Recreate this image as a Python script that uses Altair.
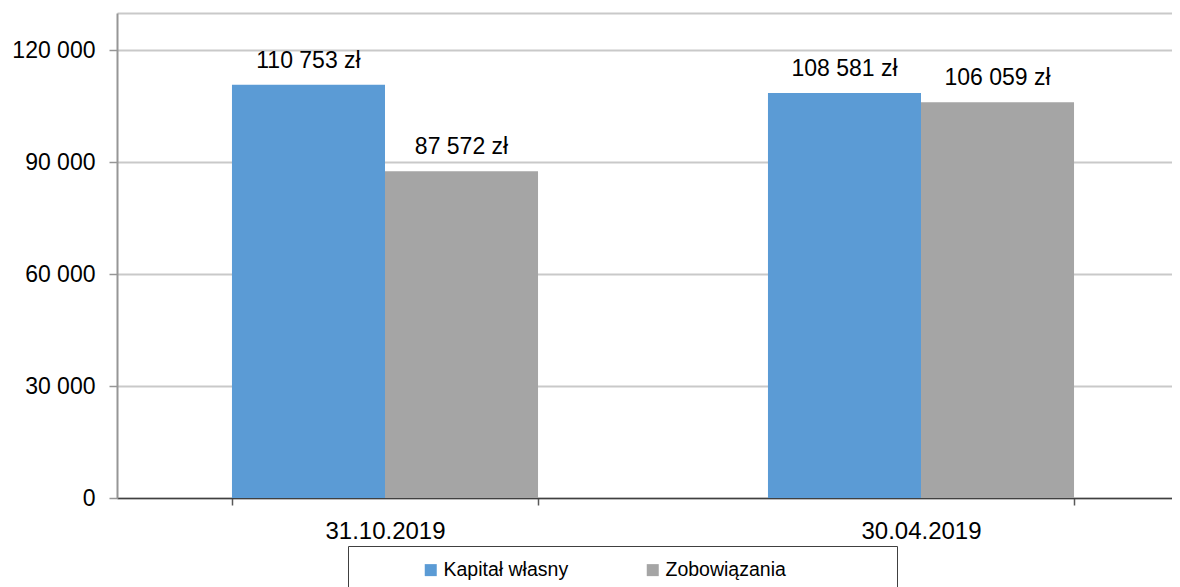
import altair as alt
import pandas as pd

dates = ["31.10.2019", "30.04.2019"]
series = ["Kapitał własny", "Zobowiązania"]
kapital = [110753, 108581]
zobowiazania = [87572, 106059]
colors = ["#5B9BD5", "#A5A5A5"]
y_ticks = [0, 30000, 60000, 90000, 120000, 130000]

rows = []
for i, d in enumerate(dates):
    rows.append({"date": d, "series": series[0], "value": kapital[i]})
    rows.append({"date": d, "series": series[1], "value": zobowiazania[i]})
df = pd.DataFrame(rows)

FONT = "Liberation Sans"
# blank legend slot that only widens the legend frame on the right
legend_domain = series + ["\u200b"]
legend_range = colors + ["transparent"]

x = alt.X(
    "date:N",
    sort=dates,
    scale=alt.Scale(range=[0, 1072], paddingInner=0.429, paddingOuter=0.2145),
    axis=alt.Axis(
        title=None, labelAngle=0, tickBand="extent", ticks=True, tickSize=7,
        tickColor="#595959", tickWidth=1.5, domainColor="#404040", domainWidth=1.5,
        labelFontSize=24, labelFont=FONT, labelColor="black", labelPadding=14,
        grid=False,
    ),
)
xo = alt.XOffset("series:N", sort=series, scale=alt.Scale(paddingInner=0, paddingOuter=0))
y = alt.Y(
    "value:Q",
    scale=alt.Scale(domain=[0, 130000], nice=False),
    axis=alt.Axis(
        title=None, values=y_ticks,
        labelExpr="datum.value > 125000 ? '' : replace(format(datum.value, ','), ',', ' ')",
        labelFontSize=23, labelFont=FONT, labelColor="black", labelPadding=14,
        tickSize=8, tickColor="#969696", tickWidth=1.5,
        tickOpacity={"condition": {"test": "datum.value > 125000", "value": 0}, "value": 1},
        domainColor="#969696", domainWidth=2,
        gridColor="#c9c9c9", gridWidth=2,
    ),
)

legend = alt.Legend(
    title=" ", titleOrient="left", titlePadding=59, titleFontSize=20,
    orient="none", legendX=231, legendY=533, direction="horizontal",
    symbolType="square", symbolSize=144, symbolStrokeWidth=0,
    labelFontSize=19.5, labelFont=FONT, labelColor="black", labelOffset=3,
    labelLimit=400, values=legend_domain,
    padding=14, strokeColor="#404040", fillColor="white", columnPadding=74,
)

bars = alt.Chart(df).mark_bar().encode(
    x=x, xOffset=xo, y=y,
    color=alt.Color("series:N",
                    scale=alt.Scale(domain=legend_domain, range=legend_range), legend=legend),
)

text = alt.Chart(df).transform_calculate(
    label="replace(format(datum.value, ','), ',', ' ') + ' zł'"
).mark_text(baseline="alphabetic", dy=-17, fontSize=23, font=FONT, color="black").encode(
    x=x, xOffset=xo, y=y, text="label:N"
)

chart = alt.layer(bars, text).properties(
    width=1055, height=485,
    autosize=alt.AutoSizeParams(type="none"),
    padding={"left": 109, "top": 5, "right": 0, "bottom": 89},
).configure_view(stroke="transparent")

chart.save("out.html", embed_options={"renderer": "svg", "actions": False})
